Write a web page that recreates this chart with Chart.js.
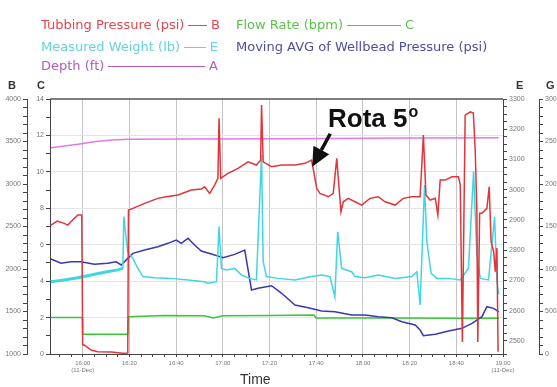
<!DOCTYPE html>
<html>
<head>
<meta charset="utf-8">
<script src="https://cdn.jsdelivr.net/npm/chart.js@4.4.1/dist/chart.umd.min.js"></script>
<style>
  html, body { margin: 0; padding: 0; background: #fff; }
  #wrap { position: relative; width: 557px; height: 387px; overflow: hidden; }
  #chart { position: absolute; left: 0; top: 0; }
  .ov { position: absolute; pointer-events: none; white-space: nowrap; }
  .leg { height: 14px; display: flex; align-items: center; font: 13px "DejaVu Sans", sans-serif; line-height: 14px; }
  .leg .rule { flex: 1; height: 0; border-top: 1px solid currentColor; margin: 0 4px; }
  .axl { font: bold 11px "Liberation Sans", Arial, sans-serif; line-height: 11px; color: #333; }
  #rota { left: 328px; top: 105px; font: bold 26px "Liberation Sans", Arial, sans-serif; line-height: 26px; color: #111; }
  #rota span { position: relative; top: -10px; font-size: 16px; margin-left: 1px; }
  #time { left: 240px; top: 372px; font: 14px "Liberation Sans", Arial, sans-serif; line-height: 14px; color: #333; }
</style>
</head>
<body>
<div id="wrap">
  <canvas id="chart" width="557" height="387"></canvas>

  <div class="ov leg" style="left:41px; top:18px; width:179px; color:#e4474f">Tubbing Pressure (psi)<span class="rule"></span>B</div>
  <div class="ov leg" style="left:236px; top:18px; width:178px; color:#5cbf4a">Flow Rate (bpm)<span class="rule"></span>C</div>
  <div class="ov leg" style="left:41px; top:40px; width:177px; color:#66d2dc">Measured Weight (lb)<span class="rule"></span>E</div>
  <div class="ov leg" style="left:236px; top:40px; color:#4b4f9e">Moving AVG of Wellbead Pressure (psi)</div>
  <div class="ov leg" style="left:41px; top:59px; width:177px; color:#b05cb8">Depth (ft)<span class="rule"></span>A</div>

  <div class="ov axl" style="left:8px; top:80px">B</div>
  <div class="ov axl" style="left:37px; top:80px">C</div>
  <div class="ov axl" style="left:516px; top:80px">E</div>
  <div class="ov axl" style="left:546px; top:80px">G</div>

  <div class="ov" id="rota">Rota 5<span>o</span></div>
  <div class="ov" id="time">Time</div>
</div>

<script>
// ── Data (time = minutes since midnight) ────────────────────────────────────

const TIME_LABELS = ['16:00', '16:20', '16:40', '17:00', '17:20', '17:40', '18:00', '18:20', '18:40', '19:00'];
const DATE_LABEL  = '(11-Dec)';

// Tubbing Pressure (psi) — axis B
const TP_T = [946.4, 949.1, 952.1, 953.6, 955.7, 957.9, 959.6, 960.0, 960.7, 963.6, 966.4, 972.2, 977.2, 979.3,
  979.6, 981.5, 986.5, 992.2, 995.8, 1000.8, 1006.5, 1010.8, 1012.2, 1014.4, 1016.5, 1017.9, 1018.4, 1019.1,
  1022.2, 1026.5, 1030.8, 1034.4, 1036.2, 1036.6, 1037.3, 1040.9, 1045.2, 1050.9, 1055.2, 1058.0, 1058.7,
  1060.2, 1061.6, 1065.2, 1067.3, 1068.8, 1069.7, 1070.6, 1071.6, 1073.7, 1076.6, 1079.5, 1083.0, 1086.6,
  1089.5, 1093.8, 1097.3, 1100.9, 1104.5, 1105.9, 1107.0, 1108.8, 1111.0, 1112.1, 1113.1, 1115.2, 1118.1,
  1120.9, 1121.7, 1122.6, 1123.8, 1126.0, 1127.3, 1128.1, 1128.8, 1129.2, 1130.0, 1131.0, 1133.1, 1134.1,
  1134.9, 1136.0, 1136.7, 1137.4, 1137.9];
const TP_PSI = [2517, 2564, 2537, 2517, 2576, 2635, 2635, 1106, 1106, 1047, 1027, 1024, 1010, 1012,
  2693, 2713, 2772, 2831, 2850, 2870, 2929, 2940, 2967, 2890, 2987, 3066, 3772, 3066,
  3125, 3184, 3261, 3223, 3281, 3928, 3261, 3203, 3223, 3223, 3243, 3281, 3184,
  2949, 2890, 2850, 2890, 3301, 2987, 2673, 2791, 2831, 2791, 2752, 2831, 2850,
  2791, 2752, 2831, 2850, 2850, 3575, 2870, 2811, 2831, 2635, 3046, 3046, 3085,
  3085, 2987, 1140, 3811, 3849, 3834, 3399, 2693, 1140, 2655, 2655, 2713, 2967,
  2321, 2203, 1968, 2247, 1027];

// Moving AVG of Wellhead Pressure (psi) — axis B
const MA_T = [946.4, 950.7, 955.0, 959.3, 965.0, 970.7, 974.3, 976.5, 979.3, 981.5, 986.5, 992.2, 996.5,
  1000.1, 1002.2, 1005.1, 1007.9, 1010.8, 1016.5, 1020.1, 1025.1, 1029.4, 1032.3, 1035.1, 1040.9, 1045.2,
  1050.9, 1056.6, 1062.3, 1068.0, 1075.2, 1080.9, 1086.6, 1092.4, 1096.7, 1102.4, 1104.5, 1105.9, 1111.0,
  1116.7, 1122.4, 1126.7, 1131.0, 1133.1, 1136.0, 1138.2];
const MA_PSI = [2117, 2067, 2085, 2085, 2055, 2067, 2085, 2047, 2125, 2184, 2223, 2262, 2302,
  2341, 2302, 2361, 2282, 2211, 2164, 2133, 2172, 2223, 1753, 1773, 1803, 1714,
  1576, 1544, 1506, 1497, 1459, 1459, 1439, 1427, 1380, 1341, 1282, 1215, 1232,
  1270, 1302, 1361, 1439, 1556, 1537, 1497];

// Measured Weight (lb) — axis E
const MW_T = [946.4, 952.1, 957.9, 963.6, 969.3, 975.0, 977.2, 977.6, 978.6, 979.3, 981.5, 983.6, 985.8,
  990.8, 997.9, 1005.1, 1012.2, 1013.6, 1017.3, 1018.4, 1019.4, 1021.5, 1025.1, 1028.0, 1031.5, 1034.4,
  1036.6, 1037.3, 1038.7, 1043.7, 1050.9, 1058.0, 1062.3, 1065.9, 1068.0, 1069.2, 1070.9, 1075.2, 1076.6,
  1080.9, 1086.6, 1093.8, 1100.9, 1103.1, 1104.5, 1106.4, 1107.4, 1109.2, 1111.7, 1116.7, 1121.7, 1125.2,
  1127.4, 1128.8, 1130.3, 1133.8, 1136.4, 1137.4, 1138.2];
const MW_LB = [2696, 2702, 2709, 2718, 2727, 2735, 2740, 2911, 2840, 2795, 2773, 2740, 2713,
  2709, 2707, 2702, 2696, 2691, 2696, 2878, 2740, 2735, 2740, 2718, 2707, 2702,
  3115, 2762, 2713, 2707, 2702, 2713, 2718, 2713, 2646, 2861, 2740, 2729, 2713,
  2709, 2718, 2707, 2713, 2729, 2619, 3016, 2828, 2724, 2707, 2707, 2702, 2740,
  3060, 2784, 2707, 2702, 2911, 2696, 2654];

// Flow Rate (bpm) — axis C
const FR_T   = [946.4, 959.8, 960.0, 979.3, 979.6, 995.0, 1012.0, 1016.0, 1020.0, 1040.0, 1059.0, 1060.0, 1090.0, 1120.0, 1138.2];
const FR_BPM = [2.0, 2.0, 1.08, 1.08, 2.05, 2.12, 2.1, 1.98, 2.1, 2.12, 2.14, 1.98, 1.98, 1.96, 1.96];

// Depth (ft) — axis A (not drawn)
const DP_T  = [946.4, 957.9, 965.0, 972.2, 980.0, 1000.0, 1050.0, 1100.0, 1138.2];
const DP_FT = [11330, 11510, 11650, 11750, 11790, 11800, 11820, 11860, 11870];

// where the "Rota 5°" arrow points: [time, psi]
const ROTA_AT = [1058.3, 3203];

// ── Helpers ──────────────────────────────────────────────────────────────────

const pts = (t, v) => t.map((x, i) => ({ x, y: v[i] }));
const NONE = 'rgba(0,0,0,0)';
const AXIS = '#444';
const TICK_FONT = { size: 7 };

function sideAxis(position, weight, min, max, step, major, width, extra) {
  return Object.assign({
    type: 'linear', position, weight, min, max,
    afterFit: s => { s.width = width; },
    border: { display: true, color: AXIS, width: 1 },
    grid: { drawOnChartArea: false, tickLength: 4, tickColor: AXIS },
    ticks: {
      stepSize: step, padding: 2, color: '#777', font: TICK_FONT, autoSkip: false,
      callback: v => (Math.abs(v % major) < 1e-6 ? String(v) : ''),
    },
  }, extra || {});
}

// ── Plugins ──────────────────────────────────────────────────────────────────

const frame = {
  id: 'frame',
  beforeDatasetsDraw(chart) {
    const { ctx, chartArea: a } = chart;
    ctx.save();
    ctx.strokeStyle = '#555';
    ctx.lineWidth = 1.5;
    ctx.beginPath();
    ctx.moveTo(a.left, a.top);
    ctx.lineTo(a.right, a.top);
    ctx.stroke();
    ctx.restore();
  },
  afterDatasetsDraw(chart) {
    // arrow for the "Rota 5°" note, tip on the tubbing pressure trace
    const { ctx } = chart;
    const x = chart.scales.x.getPixelForValue(ROTA_AT[0]);
    const y = chart.scales.B.getPixelForValue(ROTA_AT[1]);
    const tx = x + 18, ty = y - 33;
    const ang = Math.atan2(y - ty, x - tx);
    const hl = 19, hw = 9;
    const bx = x - hl * Math.cos(ang), by = y - hl * Math.sin(ang);
    ctx.save();
    ctx.strokeStyle = '#111';
    ctx.fillStyle = '#111';
    ctx.lineWidth = 3.5;
    ctx.beginPath();
    ctx.moveTo(tx, ty);
    ctx.lineTo(bx, by);
    ctx.stroke();
    ctx.beginPath();
    ctx.moveTo(x, y);
    ctx.lineTo(bx + hw * Math.sin(ang), by - hw * Math.cos(ang));
    ctx.lineTo(bx - hw * Math.sin(ang), by + hw * Math.cos(ang));
    ctx.closePath();
    ctx.fill();
    ctx.restore();
  },
};

// ── Chart ────────────────────────────────────────────────────────────────────

Chart.defaults.font.family = '"Liberation Sans", Arial, sans-serif';

const line = (label, data, axis, color, extra) => Object.assign({
  label, data, yAxisID: axis,
  borderColor: color, borderWidth: 1.5,
  pointRadius: 0, tension: 0, fill: false,
}, extra || {});

new Chart(document.getElementById('chart'), {
  type: 'line',
  data: {
    datasets: [
      line('Tubbing Pressure (psi)', pts(TP_T, TP_PSI), 'B', '#e2343a'),
      line('Measured Weight (lb)', pts(MW_T, MW_LB), 'E', '#3fd6e4', {
        segment: { borderWidth: c => (c.p0.parsed.x < 977 ? 3 : 1.5) },
      }),
      line('Moving AVG of Wellbead Pressure (psi)', pts(MA_T, MA_PSI), 'B', '#3a36b4'),
      line('Flow Rate (bpm)', pts(FR_T, FR_BPM), 'C', '#3cc43c'),
      line('Depth (ft)', pts(DP_T, DP_FT), 'A', '#e07ae6'),
    ],
  },
  options: {
    responsive: false,
    animation: false,
    devicePixelRatio: 1,
    layout: { padding: { top: 99, left: 0, right: 0, bottom: 0 } },
    plugins: { legend: { display: false }, tooltip: { enabled: false } },
    scales: {
      x: {
        type: 'linear', min: 946, max: 1140,
        afterFit: s => { s.height = 33; },
        afterBuildTicks: s => {
          const t = [];
          for (let v = 950; v <= 1140; v += 5) t.push({ value: v });
          s.ticks = t;
        },
        border: { display: true, color: AXIS, width: 1 },
        grid: {
          color: c => (c.tick && (c.tick.value - 960) % 20 === 0 ? '#c4c4c4' : NONE),
          tickColor: AXIS, tickLength: 3,
        },
        ticks: {
          autoSkip: false, maxRotation: 0, padding: 3, color: '#777', font: { size: 6 },
          callback: v => {
            if ((v - 960) % 20 !== 0) return '';
            const i = (v - 960) / 20;
            return (i === 0 || i === TIME_LABELS.length - 1) ? [TIME_LABELS[i], DATE_LABEL] : TIME_LABELS[i];
          },
        },
      },
      B: sideAxis('left', 1, 1000, 4000, 100, 500, 27),
      C: sideAxis('left', 0, 0, 14, 1, 2, 23, {
        grid: {
          drawOnChartArea: true, tickLength: 4, tickColor: AXIS,
          color: c => (c.tick && c.tick.value % 2 === 0 && c.tick.value > 0 && c.tick.value < 14 ? '#e4e4e4' : NONE),
        },
      }),
      E: sideAxis('right', 0, 2457, 3300, 25, 100, 36),
      G: sideAxis('right', 1, 0, 3000, 100, 500, 18),
      A: { type: 'linear', display: false, min: 0, max: 14000 },
    },
  },
  plugins: [frame],
});
</script>
</body>
</html>
